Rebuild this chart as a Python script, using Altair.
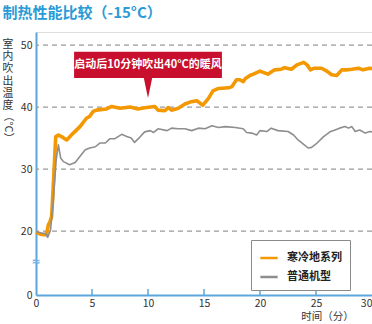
import altair as alt
import pandas as pd

# ---- data ----
series_names = ["寒冷地系列", "普通机型"]
series_colors = ["#F39800", "#8E8E8E"]

orange_x = [0, 0.4, 0.8, 0.95, 1.1, 1.25, 1.4, 1.6, 1.76, 2.0, 2.4, 2.74, 3.33, 3.93, 4.5, 4.8,
            5.1, 5.4, 6.3, 6.76, 7.5, 8.4, 9.1, 9.7, 10.6, 10.9, 11.5, 11.8, 12.1, 12.7, 13.3,
            13.75, 14.35, 14.6, 14.9, 15.4, 15.8, 16.3, 17.2, 17.5, 17.9, 18.2, 18.5, 18.7, 19.1,
            19.26, 20.0, 20.7, 21.3, 21.9, 22.2, 22.8, 23.3, 23.9, 24.2, 24.5, 24.8, 25.5, 25.96,
            26.4, 26.85, 27.3, 27.7, 28.2, 28.8, 29.2, 29.8, 30.0]
orange_y = [19.8, 19.5, 19.4, 19.5, 21.0, 21.5, 22.4, 29.4, 35.2, 35.5, 35.1, 34.7, 35.8, 36.85,
            38.2, 38.5, 39.3, 39.5, 39.7, 40.1, 39.8, 40.0, 39.7, 39.9, 40.1, 39.5, 39.4, 39.9,
            39.5, 39.8, 40.5, 40.8, 41.0, 40.7, 40.3, 41.4, 42.6, 43.0, 43.1, 43.3, 44.4, 44.4,
            44.1, 44.6, 45.1, 45.2, 45.8, 45.3, 46.0, 46.1, 46.35, 46.1, 46.8, 47.2, 46.8, 46.0,
            46.25, 46.25, 45.8, 45.2, 45.1, 46.0, 46.0, 46.1, 46.25, 46.0, 46.25, 46.2]

gray_x = [0, 0.5, 0.85, 1.05, 1.3, 1.55, 1.8, 2.0, 2.2, 2.45, 3.0, 3.5, 3.9, 4.4, 4.8, 5.3, 5.7,
          6.2, 6.6, 7.05, 7.65, 8.1, 8.5, 8.8, 9.3, 9.7, 10.2, 10.5, 10.9, 11.7, 12.1, 12.7, 13.3,
          13.9, 14.5, 15.1, 15.7, 16.3, 16.9, 17.8, 18.5, 18.8, 19.26, 19.7, 20.0, 20.6, 21.0,
          21.6, 22.5, 23.0, 23.4, 23.9, 24.3, 24.6, 25.1, 25.65, 26.25, 26.7, 27.1, 27.6, 27.9,
          28.2, 28.5, 28.9, 29.4, 29.8, 30.0]
gray_y = [19.9, 19.7, 19.6, 19.0, 20.2, 25.0, 31.5, 33.9, 31.8, 31.2, 30.7, 31.05, 32.0, 33.1,
          33.4, 33.6, 34.2, 34.2, 34.9, 34.9, 35.6, 35.25, 35.0, 34.3, 35.2, 36.0, 36.2, 35.9,
          36.5, 36.2, 36.6, 36.5, 36.5, 36.2, 36.6, 36.5, 37.0, 36.7, 36.85, 36.7, 36.5, 35.9,
          35.8, 35.5, 36.2, 36.05, 36.6, 36.2, 36.05, 35.5, 34.7, 34.0, 33.4, 33.5, 34.2, 35.2,
          36.0, 36.3, 36.6, 36.85, 36.6, 36.85, 36.05, 36.3, 35.8, 36.05, 36.0]

x_ticks = [0, 5, 10, 15, 20, 25, 30]
x_minor_ticks = [5, 10, 15, 20, 25]
y_ticks = [9.7, 20, 30, 40, 50]      # 9.7 is the bottom of the broken axis, labelled "0"
y_grid = [20, 30, 40, 50]

# annotation callout
note_text = "启动后10分钟吹出40°C的暖风"
note_box_x = [3.4, 16.6]
note_box_y = [44.7, 48.9]
note_point = [10, 43.1]

FONT = "Noto Sans CJK SC"
BLUE_AXIS = "#5BA7DD"

df = pd.DataFrame(
    {"t": orange_x + gray_x,
     "temp": orange_y + gray_y,
     "series": [series_names[0]] * len(orange_x) + [series_names[1]] * len(gray_x)}
)
df_o = df[df.series == series_names[0]]
df_g = df[df.series == series_names[1]]

xscale = alt.Scale(domain=[0, 30], nice=False, zero=False)
yscale = alt.Scale(domain=[9.7, 52.1], nice=False, zero=False)
cscale = alt.Scale(domain=series_names, range=series_colors)

x_axis = alt.Axis(
    values=x_ticks, grid=False, ticks=False, domainColor=BLUE_AXIS, domainWidth=2,
    labelFont=FONT, labelFontSize=10.5, labelColor="#333", labelPadding=3,
    labelAlign=alt.ExprRef("datum.value >= 30 ? 'right' : 'center'"),
    title="时间（分）", titleFont=FONT, titleFontSize=10.5, titleFontWeight="normal",
    titleColor="#333", titleX=291, titleY=16, titleAlign="center")
y_axis = alt.Axis(
    values=y_ticks, grid=False, ticks=False, domainColor=BLUE_AXIS, domainWidth=2,
    labelFont=FONT, labelFontSize=10.5, labelColor="#333", labelPadding=4,
    labelExpr="datum.value < 15 ? '0' : datum.label", title=None)


def X(field):
    return alt.X(field, scale=xscale, axis=x_axis, title="时间（分）")


def Y(field):
    return alt.Y(field, scale=yscale, axis=y_axis, title=None)


legend = alt.Legend(title=None, orient="none", legendX=215, legendY=208,
                    fillColor="white", strokeColor="#8a8a8a", padding=8,
                    symbolType="stroke", symbolSize=300, symbolStrokeWidth=2.5,
                    labelFont=FONT, labelFontSize=11, labelFontWeight="bold",
                    labelColor="#222", rowPadding=4, labelOffset=8)

grid = alt.Chart(pd.DataFrame({"g": y_grid})).mark_rule(
    color="#999999", strokeDash=[5, 4], strokeWidth=1.3
).encode(y=Y("g:Q"))

ticks = alt.Chart(pd.DataFrame({"tk": x_minor_ticks})).mark_rule(
    color=BLUE_AXIS, strokeWidth=1.5
).encode(x=X("tk:Q"), y=alt.value(263), y2=alt.value(257))

line_o = alt.Chart(df_o).mark_line(strokeWidth=3.6, strokeJoin="round").encode(
    x=X("t:Q"), y=Y("temp:Q"),
    color=alt.Color("series:N", scale=cscale, legend=legend))
line_g = alt.Chart(df_g).mark_line(strokeWidth=1.6, strokeJoin="round").encode(
    x=X("t:Q"), y=Y("temp:Q"),
    color=alt.Color("series:N", scale=cscale, legend=legend))

box_df = pd.DataFrame({"x1": [note_box_x[0]], "x2": [note_box_x[1]],
                       "y1": [note_box_y[0]], "y2": [note_box_y[1]],
                       "cx": [note_point[0]], "cy": [(note_box_y[0] + note_box_y[1]) / 2],
                       "ty": [note_point[1]], "label": [note_text]})
box = alt.Chart(box_df).mark_rect(color="#C8102E").encode(
    x=X("x1:Q"), x2="x2:Q", y=Y("y1:Q"), y2="y2:Q")
pointer = alt.Chart(box_df).mark_point(
    shape="M-0.42,-1 L0.42,-1 L0,1 Z", filled=True, color="#C8102E", opacity=1, size=420
).encode(x=X("cx:Q"), y=Y("ty:Q"))
box_text = alt.Chart(box_df).mark_text(
    color="white", font=FONT, fontSize=11, fontWeight="bold", baseline="middle", align="center"
).encode(x=X("cx:Q"), y=Y("cy:Q"), text="label:N")

break_mark = alt.Chart(pd.DataFrame({"bx": [0], "by": [15]})).mark_text(
    text="≈", color="#6FB3E6", fontSize=11, fontWeight="bold", font="DejaVu Sans"
).encode(x=X("bx:Q"), y=Y("by:Q"))

ytitle = alt.Chart(pd.DataFrame({"a": [0]})).mark_text(
    text="室\n内\n吹\n出\n温\n度", lineBreak="\n", lineHeight=12.2, font=FONT, fontSize=10.8,
    color="#333", baseline="top", align="center"
).encode(x=alt.value(-28), y=alt.value(7))
ytitle2 = alt.Chart(pd.DataFrame({"a": [0]})).mark_text(
    text="（°C）", angle=90, font=FONT, fontSize=10.8, color="#333",
    baseline="middle", align="center"
).encode(x=alt.value(-28), y=alt.value(95))

chart = alt.layer(
    grid, line_o, line_g, ticks, box, pointer, box_text, break_mark, ytitle, ytitle2
).properties(
    width=336, height=263,
    autosize="none",
    padding={"left": 36, "top": 32, "right": 0, "bottom": 29},
    title=alt.TitleParams("制热性能比较（-15°C）", anchor="start", font=FONT, fontSize=15,
                          fontWeight="bold", color="#2A9BD6", offset=11)
).configure_view(fill="#D6ECF9", strokeWidth=0).configure(background="white")

chart.save("out.html", embed_options={"renderer": "svg", "actions": False})
